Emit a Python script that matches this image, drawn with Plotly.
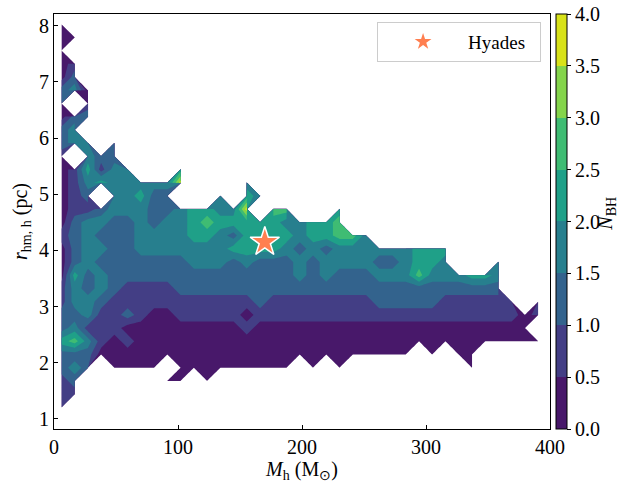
import numpy as np
import plotly.graph_objects as go

# Grid of half-mass masses (M_sun) and half-mass radii (pc)
mass_grid = [6.0, 16.7, 27.4, 38.0, 48.7, 59.4, 70.1, 80.8, 91.4, 102.1, 112.8, 123.5,
             134.2, 144.8, 155.5, 166.2, 176.9, 187.6, 198.2, 208.9, 219.6, 230.3, 241.0,
             251.6, 262.3, 273.0, 283.7, 294.4, 305.0, 315.7, 326.4, 337.1, 347.8, 358.4,
             369.1, 379.8, 390.5]
radius_grid = [1.205, 1.440, 1.676, 1.911, 2.146, 2.382, 2.617, 2.852, 3.087, 3.323,
               3.558, 3.793, 4.029, 4.264, 4.499, 4.735, 4.970, 5.205, 5.440, 5.676,
               5.911, 6.146, 6.382, 6.617, 6.852, 7.088, 7.323, 7.558, 7.793, 8.029]

# N_BH, one string per radius row (bottom row first).
# digit d -> N_BH = 0.5*d + 0.25 ; '.' -> no model at that grid point
nbh_rows = [
    "1....................................",
    "11...................................",
    "12......00.0.........................",
    "232.0000.000000000.0.0.........0.....",
    "222000000000000000000000000.0.00.....",
    "4531010000000000000000000000000000000",
    "231110000000001000000000000000000000.",
    "2231121001111101111111111111111111101",
    "13321111111111121111111122222111111.1",
    "1323211112222222222222222222222222...",
    "0423222222222222223232223335333443....",
    "023222222233323222323333223443...3....",
    "023322333333344443232333333444.......",
    "123222333344324444344553.............",
    "0233223233454444433445...............",
    "011233322344337.55...4...............",
    "012.33422...3.43.....................",
    "0134333337....3......................",
    "014133...4...........................",
    "1.322................................",
    "233.2................................",
    "23...................................",
    "022..................................",
    "2.1..................................",
    "230..................................",
    "02...................................",
    "01...................................",
    "0....................................",
    "01...................................",
    "0....................................",
]

hyades_mass = [170.0]
hyades_radius = [4.15]

cbar_ticks = [0.0, 0.5, 1.0, 1.5, 2.0, 2.5, 3.0, 3.5, 4.0]
band_colors = ['#48186a', '#433e85', '#33638d', '#277f8e',
               '#1fa088', '#3fbc73', '#84d44b', '#d8e219']

ncol = len(mass_grid)
z = np.full((len(radius_grid), ncol), -100.0)  # empty grid points -> below every level
for j, row in enumerate(nbh_rows):
    row = row.ljust(ncol, '.')[:ncol]
    for k, ch in enumerate(row):
        if ch != '.':
            z[j, k] = 0.5 * int(ch) + 0.25

# stepped colour scale: plotly colours fill band i at fraction i/10 (levels -0.5..4, step 0.5)
fill_cols = ['white', 'white'] + band_colors + [band_colors[-1]]
cscale = []
for i, c in enumerate(fill_cols):
    cscale.append([max(0.0, (i - 0.5) / 10), c])
    cscale.append([min(1.0, (i + 0.5) / 10), c])

bar_scale = []
for i, c in enumerate(band_colors):
    bar_scale.append([i / 8, c])
    bar_scale.append([(i + 1) / 8, c])

FONT = "Liberation Serif"

fig = go.Figure()
fig.add_trace(go.Contour(
    x=mass_grid, y=radius_grid, z=z,
    autocontour=False,
    contours=dict(start=-0.5, end=4.0, size=0.5, coloring='fill', showlines=False),
    line=dict(width=0, smoothing=0),
    colorscale=cscale, showscale=False, hoverinfo='skip', showlegend=False,
))

fig.add_trace(go.Scatter(
    x=[None, None], y=[None, None], mode='markers', showlegend=False,
    marker=dict(color=[0, 4], cmin=0, cmax=4, colorscale=bar_scale, showscale=True,
                colorbar=dict(x=1.012, xanchor='left', xpad=0, ypad=0, y=0.5, yanchor='middle',
                              len=1, lenmode='fraction', thickness=11, outlinewidth=1,
                              outlinecolor='black', tickvals=cbar_ticks,
                              ticktext=[f"{t:.1f}" for t in cbar_ticks],
                              ticks='outside', ticklen=4, tickcolor='black',
                              tickfont=dict(family=FONT, size=20, color='black'))),
))

fig.add_trace(go.Scatter(
    x=hyades_mass, y=hyades_radius, mode='markers', name='Hyades\u00a0\u00a0',
    marker=dict(symbol='star', size=22, color='#ff7f50', line=dict(color='white', width=1.5)),
))

axis_common = dict(showgrid=False, zeroline=False, showline=True, linecolor='black',
                   linewidth=1, mirror=True, ticks='inside', ticklen=4, tickcolor='black',
                   tickfont=dict(family=FONT, size=20, color='black'))

fig.update_layout(
    width=638, height=488,
    margin=dict(l=54, r=88, t=14, b=55),
    paper_bgcolor='white', plot_bgcolor='white',
    font=dict(family=FONT, color='black'),
    xaxis=dict(range=[0, 400], tickvals=[0, 100, 200, 300, 400],
               title=dict(text="<i>M</i><sub>h</sub> (M<sub>⊙</sub>)",
                          font=dict(family=FONT, size=20), standoff=4), **axis_common),
    yaxis=dict(range=[0.82, 8.21], tickvals=[1, 2, 3, 4, 5, 6, 7, 8],
               title=dict(text="<i>r</i><sub>hm, h</sub> (pc)",
                          font=dict(family=FONT, size=20), standoff=6), **axis_common),
    legend=dict(x=0.982, y=0.981, xanchor='right', yanchor='top', itemwidth=80,
                bordercolor='#cccccc', borderwidth=1, bgcolor='white',
                font=dict(family=FONT, size=19, color='black')),
    annotations=[dict(text="<i>N</i><sub>BH</sub>", xref='paper', yref='paper',
                      x=1.143, y=0.52, showarrow=False, textangle=-90,
                      font=dict(family=FONT, size=20, color='black'))],
)

fig.write_html("out.html")
